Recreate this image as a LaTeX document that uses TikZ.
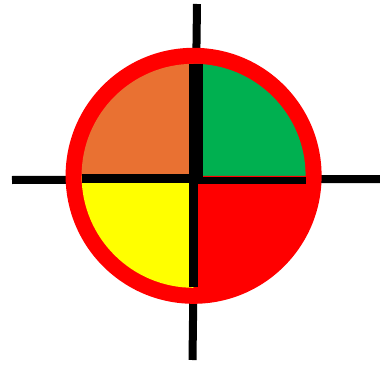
\documentclass[tikz,border=0pt]{standalone}
\usepackage{xcolor}
\usepackage{tikz}
\definecolor{ringred}    {HTML}{FF0000}
\definecolor{quadorange} {HTML}{E97132}
\definecolor{quadgreen}  {HTML}{00B050}
\definecolor{quadyellow} {HTML}{FFFF00}

\begin{document}
\begin{tikzpicture}[
    x=1pt, y=1pt,
    axis/.style={draw=black, line width=8pt},
    bar/.style={draw=black},
    quad/.style={draw=none},
  ]
    \useasboundingbox (0,0) rectangle (380,365);
    \coordinate (c) at (193.6,189.2);

    % long cross behind the target
    \coordinate (west)  at (12,185);
    \coordinate (east)  at (380,186);
    \coordinate (north) at (197,361);
    \coordinate (south) at (192.5,5);
    \draw[axis] (west) -- (east);
    \draw[axis] (north) -- (south);

    % ring and quarters
    \fill[ringred] (c) circle[radius=128];
    \fill[quad, quadgreen]  (c) -- ++(0:112)   arc[start angle=0,   end angle=90,  radius=112] -- cycle;
    \fill[quad, quadorange] (c) -- ++(90:112)  arc[start angle=90,  end angle=180, radius=112] -- cycle;
    \fill[quad, quadyellow] (c) -- ++(180:112) arc[start angle=180, end angle=270, radius=112] -- cycle;
    \fill[quad, ringred]    (c) -- ++(270:112) arc[start angle=270, end angle=360, radius=112] -- cycle;

    % inner cross
    \draw[bar, line width=14pt]  (195.7,301.2) -- (195.7,186);
    \draw[bar, line width=9pt]   (193.5,190)   -- (193.5,78);
    \draw[bar, line width=8.4pt] (81.7,186.5)  -- (197,186.5);
    \draw[bar, line width=7.3pt] (190,184.7)   -- (305.7,184.7);
\end{tikzpicture}
\end{document}
